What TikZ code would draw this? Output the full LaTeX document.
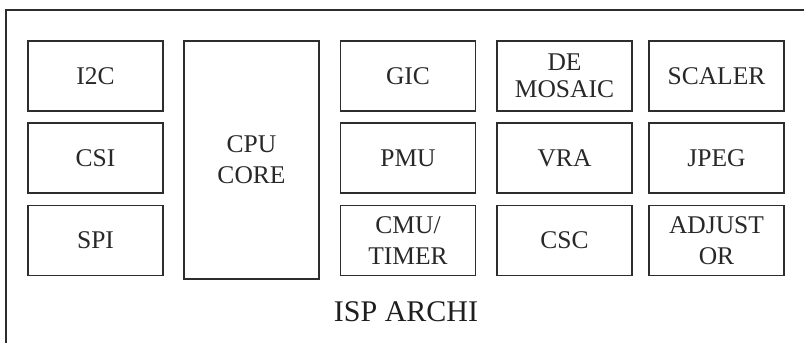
\documentclass[tikz,border=0pt]{standalone}
\usepackage{fontspec}
\setmainfont{Liberation Serif}
\begin{document}
\begin{tikzpicture}[x=1pt,y=-1pt,
  ink/.style={color={rgb,255:red,45;green,45;blue,45}},
  frame/.style={ink, line width=2pt},
  block/.style={draw, ink, line width=1.7pt, text={rgb,255:red,40;green,40;blue,40},
    minimum width=135pt, minimum height=70pt, inner sep=0pt, align=center,
    font=\fontsize{25.5}{31}\selectfont},
  title/.style={text={rgb,255:red,30;green,30;blue,30}, inner sep=0pt,
    font=\fontsize{30}{30}\selectfont}]
\useasboundingbox (0,0) rectangle (804,343);
\clip (0,0) rectangle (804,343);
% outer frame (runs off the right and bottom edges)
\draw[frame] (6,10) rectangle (830,380);
% left column
\node[block] (i2c) at (95.5,76) {I2C};
\node[block] (csi) at (95.5,158) {CSI};
\node[block] (spi) at (95.5,240.5) {SPI};
% processor core
\node[block, minimum height=238pt] (cpu) at (251.5,160) {CPU\\CORE};
% system blocks
\node[block] (gic) at (408,76) {GIC};
\node[block] (pmu) at (408,158) {PMU};
\node[block] (cmu) at (408,240.5) {CMU/\\TIMER};
% image pipeline
\node[block, font=\fontsize{25.5}{27}\selectfont] (demosaic) at (564.5,76) {DE\\MOSAIC};
\node[block] (vra) at (564.5,158) {VRA};
\node[block] (csc) at (564.5,240.5) {CSC};
\node[block] (scaler) at (716.5,76) {SCALER};
\node[block] (jpeg) at (716.5,158) {JPEG};
\node[block] (adjustor) at (716.5,240.5) {ADJUST\\OR};
% caption
\node[title] (caption) at (406,312) {ISP ARCHI};
\end{tikzpicture}
\end{document}
